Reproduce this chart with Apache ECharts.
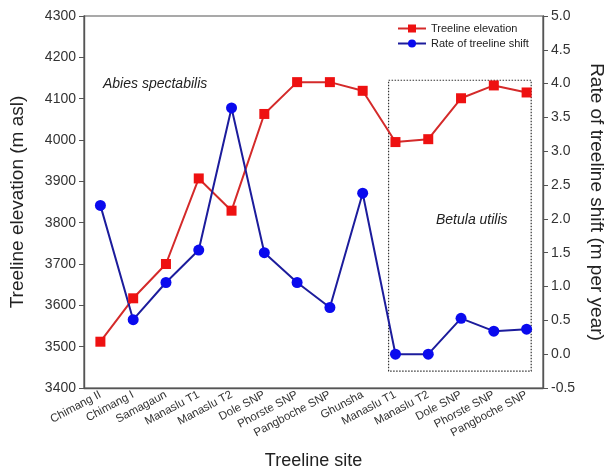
<!DOCTYPE html>
<html><head><meta charset="utf-8">
<script src="https://cdn.jsdelivr.net/npm/echarts@6/dist/echarts.min.js"></script>
<style>html,body{margin:0;padding:0;background:#fff}#c{width:608px;height:472px}</style>
</head><body><div id="c"></div>
<script>
const sites = ['Chimang II','Chimang I','Samagaun','Manaslu T1','Manaslu T2','Dole SNP','Phorste SNP','Pangboche SNP','Ghunsha','Manaslu T1','Manaslu T2','Dole SNP','Phorste SNP','Pangboche SNP'];
const elevation = [3512, 3617, 3700, 3907, 3829, 4063, 4140, 4140, 4119, 3995, 4002, 4101, 4132, 4115];
const shiftRate = [2.20, 0.51, 1.06, 1.54, 3.64, 1.50, 1.06, 0.69, 2.38, 0.0, 0.0, 0.53, 0.34, 0.37];
// Betula box extent (category index, rate units)
const boxX = [8.79, 13.14];
const boxY = [-0.25, 4.05];

const font = 'Liberation Sans, Arial, sans-serif';
const axisCol = '#555';
const chart = echarts.init(document.getElementById('c'));
chart.setOption({
  animation: false,
  textStyle: {fontFamily: font},
  grid: {left: 84, right: 65, top: 16, bottom: 84, containLabel: false, outerBoundsMode: 'none',
         show: true, borderColor: axisCol, borderWidth: 1.2},
  legend: {
    orient: 'vertical', left: 392, top: 18, itemGap: 4, itemWidth: 28, itemHeight: 10,
    textStyle: {fontSize: 11, color: '#222', fontFamily: font},
    data: ['Treeline elevation', 'Rate of treeline shift']
  },
  xAxis: {
    type: 'category', data: sites, boundaryGap: true,
    name: 'Treeline site', nameLocation: 'middle', nameGap: 64,
    nameTextStyle: {fontSize: 18, color: '#222'},
    axisLine: {onZero: false, lineStyle: {color: axisCol, width: 1.4}},
    axisTick: {alignWithLabel: true, length: 5, lineStyle: {color: axisCol}},
    axisLabel: {rotate: 28, interval: 0, fontSize: 11.5, color: '#333', margin: 6}
  },
  yAxis: [{
    type: 'value', min: 3400, max: 4300, interval: 100, position: 'left',
    name: 'Treeline elevation (m asl)', nameLocation: 'middle', nameGap: 57,
    nameTextStyle: {fontSize: 19, color: '#222'},
    axisLine: {show: true, lineStyle: {color: axisCol, width: 1.4}},
    axisTick: {show: true, length: 5, lineStyle: {color: axisCol}},
    axisLabel: {fontSize: 14, color: '#333', margin: 8, formatter: v => String(v)},
    splitLine: {show: false}
  }, {
    type: 'value', min: -0.5, max: 5.0, interval: 0.5, position: 'right',
    name: 'Rate of treeline shift (m per year)', nameLocation: 'middle', nameGap: 44, nameRotate: -90,
    nameTextStyle: {fontSize: 19, color: '#222'},
    axisLine: {show: true, onZero: false, lineStyle: {color: axisCol, width: 1.4}},
    axisTick: {show: true, length: 5, lineStyle: {color: axisCol}},
    axisLabel: {fontSize: 14, color: '#333', margin: 8, formatter: v => v.toFixed(1)},
    splitLine: {show: false}
  }],
  series: [{
    name: 'Treeline elevation', type: 'line', yAxisIndex: 0, data: elevation,
    symbol: 'rect', symbolSize: 10,
    itemStyle: {color: '#ee1111'},
    lineStyle: {color: '#d42a2a', width: 2}
  }, {
    name: 'Rate of treeline shift', type: 'line', yAxisIndex: 1, data: shiftRate,
    symbol: 'circle', symbolSize: 11,
    itemStyle: {color: '#0a0aee'},
    lineStyle: {color: '#1c1c9c', width: 2}
  }]
});

function catPx(idx) {
  const last = sites.length - 1;
  const i = Math.min(Math.floor(idx), last);
  const a = chart.convertToPixel({xAxisIndex: 0}, i);
  const step = chart.convertToPixel({xAxisIndex: 0}, 1) - chart.convertToPixel({xAxisIndex: 0}, 0);
  return a + (idx - i) * step;
}
const x0 = catPx(boxX[0]), x1 = catPx(boxX[1]);
const yTop = chart.convertToPixel({yAxisIndex: 1}, boxY[1]);
const yBot = chart.convertToPixel({yAxisIndex: 1}, boxY[0]);
chart.setOption({
  graphic: [{
    type: 'rect', shape: {x: x0, y: yTop, width: x1 - x0, height: yBot - yTop},
    style: {fill: 'none', stroke: '#333', lineWidth: 1.2, lineDash: [1.5, 1.5]}, z: 1
  }, {
    type: 'text', left: 103, top: 77,
    style: {text: 'Abies spectabilis', font: 'italic 14px ' + font, fill: '#222'}
  }, {
    type: 'text', left: 436, top: 213,
    style: {text: 'Betula utilis', font: 'italic 14px ' + font, fill: '#222'}
  }]
});
</script></body></html>
